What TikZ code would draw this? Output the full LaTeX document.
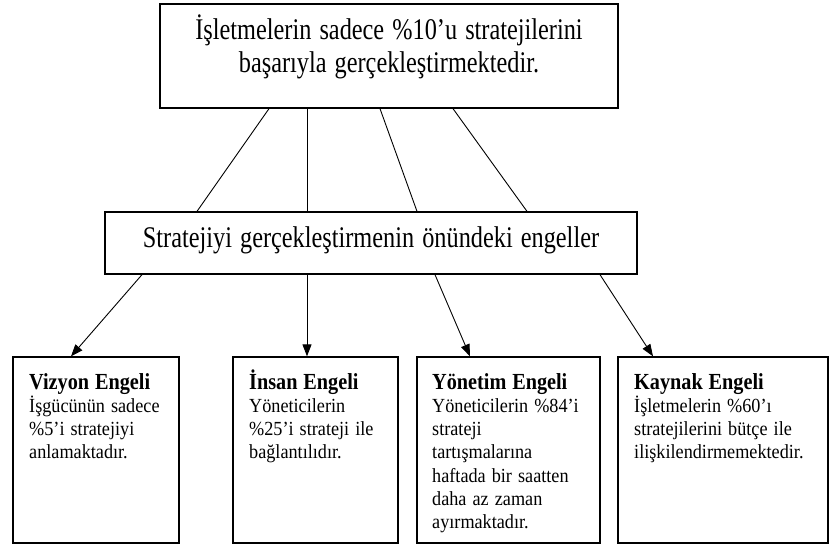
\documentclass[tikz,border=0pt]{standalone}
\usepackage{fontspec}
\usepackage{graphicx}
\setmainfont{Liberation Serif}
\newcommand{\bx}[1]{\scalebox{0.81}[1]{#1}}
\newcommand{\sx}[1]{\scalebox{0.91}[1]{#1}}
\newcommand{\hd}[1]{\scalebox{0.88}[1]{\bfseries\fontsize{23}{23.3}\selectfont #1}}
\usetikzlibrary{arrows.meta}
\begin{document}
\begin{tikzpicture}[x=1pt,y=-1pt,
  box/.style={draw=black, line width=1.3pt, rectangle, inner sep=0pt},
  bigtext/.style={font=\fontsize{30}{33}\selectfont, inner sep=0pt, align=center, anchor=base},
  smalltext/.style={font=\fontsize{20}{23.3}\selectfont, inner sep=0pt, align=left, anchor=base west, text width=195pt},
  link/.style={draw=black, line width=0.9pt},
  arr/.style={link, -{Triangle[length=12pt,width=9pt]}}
]
\useasboundingbox (0,0) rectangle (830,544);

% top box
\node[box, minimum width=458pt, minimum height=104pt] (top) at (389,56) {};
\node[bigtext, text width=450pt] (topT) at (389,39) {\bx{İşletmelerin sadece \%10’u stratejilerini}\\\bx{başarıyla gerçekleştirmektedir.}};

% middle box
\node[box, minimum width=532pt, minimum height=62pt] (mid) at (371,243) {};
\node[bigtext, text width=520pt] (midT) at (371,247) {\bx{Stratejiyi gerçekleştirmenin önündeki engeller}};

% bottom boxes
\node[box, minimum width=166pt, minimum height=186pt] (viz) at (96,450) {};
\node[box, minimum width=165pt, minimum height=186pt] (ins) at (315.5,450) {};
\node[box, minimum width=183pt, minimum height=186pt] (yon) at (508.5,450) {};
\node[box, minimum width=210pt, minimum height=186pt] (kay) at (723,450) {};

\node[smalltext] (vizT) at (29,389)
  {\hd{Vizyon Engeli}\\\sx{İşgücünün sadece}\\\sx{\%5’i stratejiyi}\\\sx{anlamaktadır.}};
\node[smalltext] (insT) at (249,389)
  {\hd{İnsan Engeli}\\\sx{Yöneticilerin}\\\sx{\%25’i strateji ile}\\\sx{bağlantılıdır.}};
\node[smalltext] (yonT) at (432,389)
  {\hd{Yönetim Engeli}\\\sx{Yöneticilerin \%84’i}\\\sx{strateji}\\\sx{tartışmalarına}\\\sx{haftada bir saatten}\\\sx{daha az zaman}\\\sx{ayırmaktadır.}};
\node[smalltext] (kayT) at (634,389)
  {\hd{Kaynak Engeli}\\\sx{İşletmelerin \%60’ı}\\\sx{stratejilerini bütçe ile}\\\sx{ilişkilendirmemektedir.}};

% top -> middle lines
\draw[link] ([xshift=-120pt]top.south) -- ([xshift=-174pt]mid.north);
\draw[link] ([xshift=-82pt]top.south) -- ([xshift=-64pt]mid.north);
\draw[link] ([xshift=-9pt]top.south) -- ([xshift=46pt]mid.north);
\draw[link] ([xshift=64pt]top.south) -- ([xshift=156pt]mid.north);

% middle -> bottom arrows
\draw[arr] ([xshift=-229pt]mid.south) -- ([xshift=-25pt]viz.north);
\draw[arr] ([xshift=-64pt]mid.south) -- ([xshift=-8.5pt]ins.north);
\draw[arr] ([xshift=64pt]mid.south) -- ([xshift=-38.5pt]yon.north);
\draw[arr] ([xshift=229pt]mid.south) -- ([xshift=-70pt]kay.north);
\end{tikzpicture}
\end{document}
